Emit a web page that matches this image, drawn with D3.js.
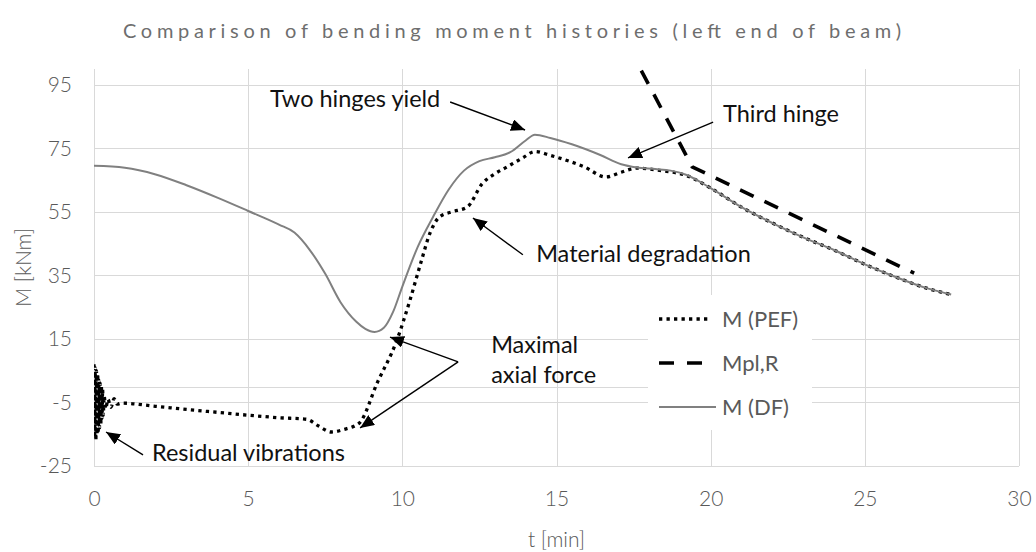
<!DOCTYPE html>
<html>
<head>
<meta charset="utf-8">
<script src="https://cdn.jsdelivr.net/npm/d3@7"></script>
<style>
  html, body { margin: 0; padding: 0; background: #fff; }
  svg { display: block; font-family: Lato, "Open Sans", sans-serif; }
</style>
</head>
<body>
<svg id="chart" width="1036" height="552"></svg>
<script>
// ---------------- DATA ----------------
const chartTitle = "Comparison of bending moment histories (left end of beam)";
const xTicks = [0, 5, 10, 15, 20, 25, 30];
const yTicks = [-25, -5, 15, 35, 55, 75, 95];
const xLabel = "t [min]";
const yLabel = "M [kNm]";
const seriesNames = ["M (PEF)", "Mpl,R", "M (DF)"];

// M (PEF) – dotted, black
const tPEF = [0, 0.02, 0.04, 0.06, 0.08, 0.1, 0.12, 0.14, 0.16, 0.18, 0.2, 0.22, 0.24, 0.26, 0.28, 0.3, 0.33, 0.38, 0.45, 0.55, 0.65, 0.75, 0.9,
  2, 3, 4, 5, 6, 6.9, 7.3, 7.7, 8.1, 8.6, 9.2, 9.8, 10.25, 10.6, 10.9, 11.2, 11.6, 12.1, 12.6, 13.0, 13.4, 13.9, 14.3, 14.8, 15.4, 15.9, 16.6, 17.1, 17.6, 18.4,
  19.2, 20, 21, 22, 23, 24, 25, 26, 27, 27.8];
const vPEF = [7, -16, 6, -17, 5, -15, 4, -14, 2, -13, 1, -12, 0, -10, -1, -9, -3, -7, -4, -6.5, -3.8, -5.5, -5.2,
  -6.2, -7.2, -8.1, -9, -9.8, -10.3, -12.5, -14.3, -13.5, -11.5, 1.5, 14, 27.3, 39, 48.4, 53.4, 55, 56.5, 64, 67, 69.2, 72, 74, 72.8, 71, 69.2, 66, 67.5, 68.8, 68,
  66.5, 62.5, 56.5, 51.5, 47, 43, 38.5, 34.5, 31, 29];

// Mpl,R – dashed, black
const tMpl = [17.75, 19.4, 26.6];
const vMpl = [99.5, 69.2, 35.7];

// M (DF) – solid, grey
const tDF = [0, 1, 2, 3, 4, 5, 6, 6.5, 7, 7.5, 8, 8.5, 8.8, 9.1, 9.4, 9.7, 10, 10.5, 11, 11.5, 12, 12.5, 13, 13.5, 14, 14.3, 14.8, 15.5, 16.4, 17.1, 17.6, 18.2, 18.7, 19.2,
  20, 21, 22, 23, 24, 25, 26, 27, 27.8];
const vDF = [69.5, 68.9, 66.8, 63.4, 59.5, 55.3, 51, 48.5, 43, 35.5, 26.5, 20.5, 18.2, 17.2, 18.5, 23.5, 31.5, 44, 53.5, 62, 68, 71, 72.2, 73.8, 77.5, 79.3, 78.3, 76.3, 73, 70, 69, 68.5, 68, 66.7,
  62.5, 56.5, 51.5, 47, 43, 38.5, 34.5, 31, 29];

// Annotations (data coordinates)
const annoTexts = [
  { lines: ["Two hinges yield"], t: 5.71, v: 88.1 },
  { lines: ["Third hinge"], t: 20.4, v: 83.3 },
  { lines: ["Material degradation"], t: 14.34, v: 39.3 },
  { lines: ["Maximal", "axial force"], t: 12.88, v: 10.6 },
  { lines: ["Residual vibrations"], t: 1.88, v: -23.4 }
];
const annoArrows = [
  { t0: 11.55, v0: 89.6, t1: 13.98, v1: 80.8 },
  { t0: 20.08, v0: 83.3, t1: 17.32, v1: 72.0 },
  { t0: 13.91, v0: 41.5, t1: 12.29, v1: 53.1 },
  { t0: 11.81, v0: 7.8, t1: 9.6, v1: 15.6 },
  { t0: 11.81, v0: 7.8, t1: 8.63, v1: -13.0 },
  { t0: 1.59, v0: -21.5, t1: 0.39, v1: -14.3 }
];

// ---------------- LAYOUT ----------------
const svg = d3.select("#chart");
const plot = { left: 94, right: 1019, top: 69, bottom: 466 };
const x = d3.scaleLinear().domain([0, 30]).range([plot.left, plot.right]);
const y = d3.scaleLinear().domain([-25, 100]).range([plot.bottom, plot.top]);
const gridColor = "#d9d9d9";
const labelColor = "#595959";

svg.append("defs").append("clipPath").attr("id", "clip")
  .append("rect").attr("x", plot.left).attr("y", plot.top)
  .attr("width", plot.right - plot.left).attr("height", plot.bottom - plot.top);

const marker = svg.select("defs").append("marker")
  .attr("id", "arrow").attr("markerUnits", "userSpaceOnUse")
  .attr("markerWidth", 16).attr("markerHeight", 12)
  .attr("refX", 14).attr("refY", 6).attr("orient", "auto");
marker.append("path").attr("d", "M0,0 L14,6 L0,12 Z").attr("fill", "#000");

// Title
svg.append("text")
  .attr("x", 512).attr("y", 38)
  .attr("text-anchor", "middle")
  .attr("font-size", 20)
  .attr("fill", "#6e6e6e")
  .attr("textLength", 778).attr("lengthAdjust", "spacing")
  .text(chartTitle);

// Grid
const grid = svg.append("g");
grid.selectAll(".hg").data(yTicks.concat([0])).enter().append("line")
  .attr("x1", plot.left).attr("x2", plot.right)
  .attr("y1", d => Math.round(y(d)) + 0.5).attr("y2", d => Math.round(y(d)) + 0.5)
  .attr("stroke", gridColor).attr("stroke-width", 1);
grid.selectAll(".vg").data(xTicks).enter().append("line")
  .attr("y1", plot.top).attr("y2", plot.bottom)
  .attr("x1", d => Math.round(x(d)) + 0.5).attr("x2", d => Math.round(x(d)) + 0.5)
  .attr("stroke", gridColor).attr("stroke-width", 1);

// Axes (labels only, through d3 axes)
const yAxis = svg.append("g").attr("transform", `translate(${plot.left},0)`)
  .call(d3.axisLeft(y).tickValues(yTicks).tickFormat(d => String(d)).tickSize(0).tickPadding(22));
yAxis.select(".domain").remove();
yAxis.selectAll("text").attr("font-size", 21).attr("font-weight", 300).attr("fill", labelColor).attr("font-family", "Lato, sans-serif");

const xAxis = svg.append("g").attr("transform", `translate(0,${plot.bottom})`)
  .call(d3.axisBottom(x).tickValues(xTicks).tickFormat(d => String(d)).tickSize(0).tickPadding(25));
xAxis.select(".domain").remove();
xAxis.selectAll("text").attr("font-size", 21).attr("font-weight", 300).attr("fill", labelColor).attr("font-family", "Lato, sans-serif");

svg.append("text").attr("x", (plot.left + plot.right) / 2).attr("y", 547)
  .attr("text-anchor", "middle").attr("font-size", 21).attr("font-weight", 300).attr("fill", labelColor).text(xLabel);
svg.append("text").attr("transform", `translate(31,${(plot.top + plot.bottom) / 2}) rotate(-90)`)
  .attr("text-anchor", "middle").attr("font-size", 21).attr("font-weight", 300).attr("fill", labelColor).text(yLabel);

// Series
const lines = svg.append("g").attr("clip-path", "url(#clip)");
const mk = (ts, vs) => ts.map((t, i) => [t, vs[i]]);
const lineGen = d3.line().x(d => x(d[0])).y(d => y(d[1])).curve(d3.curveMonotoneX);
const lineLin = d3.line().x(d => x(d[0])).y(d => y(d[1]));

lines.append("path").datum(mk(tPEF, vPEF)).attr("d", lineGen)
  .attr("fill", "none").attr("stroke", "#000").attr("stroke-width", 3.3)
  .attr("stroke-dasharray", "3.3,4.2");
lines.append("path").datum(mk(tMpl, vMpl)).attr("d", lineLin)
  .attr("fill", "none").attr("stroke", "#000").attr("stroke-width", 3.6)
  .attr("stroke-dasharray", "15,12");
lines.append("path").datum(mk(tDF, vDF)).attr("d", lineGen)
  .attr("fill", "none").attr("stroke", "#808080").attr("stroke-width", 2);

// Annotations
const anno = svg.append("g");
annoArrows.forEach(a => {
  anno.append("line")
    .attr("x1", x(a.t0)).attr("y1", y(a.v0)).attr("x2", x(a.t1)).attr("y2", y(a.v1))
    .attr("stroke", "#000").attr("stroke-width", 1.4).attr("marker-end", "url(#arrow)");
});
annoTexts.forEach(a => {
  a.lines.forEach((s, i) => {
    anno.append("text").attr("x", x(a.t)).attr("y", y(a.v) + i * 30)
      .attr("font-size", 23.5).attr("fill", "#111").text(s);
  });
});

// Legend
const legend = svg.append("g");
legend.append("rect").attr("x", 648).attr("y", 295).attr("width", 164).attr("height", 135).attr("fill", "#fff");
const legY = [319, 363, 407];
const legStyles = [
  { stroke: "#000", w: 3.3, dash: "3.3,4.2", x2: 710 },
  { stroke: "#000", w: 3.6, dash: "15,13", x2: 702 },
  { stroke: "#808080", w: 2, dash: null, x2: 716 }
];
seriesNames.forEach((name, i) => {
  const st = legStyles[i];
  legend.append("line").attr("x1", 659).attr("x2", st.x2).attr("y1", legY[i]).attr("y2", legY[i])
    .attr("stroke", st.stroke).attr("stroke-width", st.w).attr("stroke-dasharray", st.dash);
  legend.append("text").attr("x", 722).attr("y", legY[i]).attr("dy", "0.35em")
    .attr("font-size", 22).attr("fill", labelColor).text(name);
});
</script>
</body>
</html>
